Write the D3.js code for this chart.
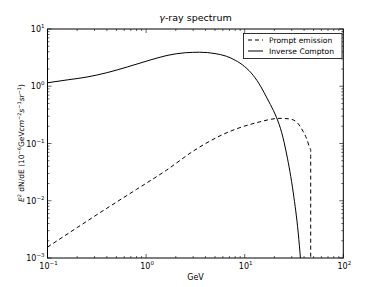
<!DOCTYPE html>
<html><head><meta charset="utf-8">
<script src="https://cdn.jsdelivr.net/npm/d3@7"></script>
<style>body{margin:0;background:#fff}svg{display:block}text{font-family:"DejaVu Sans",sans-serif;fill:#000}</style>
</head><body>
<svg id="c" width="382" height="287"></svg>
<script>
const icEnergy = [0.1, 0.158, 0.252, 0.403, 0.643, 1.02, 1.63, 2.5, 3.5, 5.0, 6.5, 8.0, 10.0, 12.2, 14.5, 17.0, 19.5, 21.1, 23.7, 26.6, 31.1, 34.9, 36.9, 38.5];
const icFlux   = [1.15, 1.29, 1.45, 1.73, 2.17, 2.76, 3.45, 3.85, 3.93, 3.72, 3.35, 2.85, 2.2, 1.55, 1.0, 0.6, 0.38, 0.28, 0.156, 0.0656, 0.0137, 0.00274, 0.00091, 0.00032];
const peEnergy = [0.1, 0.2, 0.4, 0.8, 1.6, 3.13, 6.07, 13.2, 22.8, 28.8, 35, 39.3, 43, 45.2, 46.5, 46.7, 46.7];
const peFlux   = [0.00155, 0.0034, 0.0074, 0.0158, 0.034, 0.077, 0.145, 0.231, 0.275, 0.268, 0.22, 0.16, 0.115, 0.088, 0.08, 0.08, 0.00001];
const xTicks = [-1, 0, 1, 2];
const yTicks = [-3, -2, -1, 0, 1];
const legendLabels = ["Prompt emission", "Inverse Compton"];

const svg = d3.select("#c");
const L = 47.5, R = 343.3, T = 29, B = 258;
const x = d3.scaleLog().domain([0.1, 100]).range([L, R]);
const y = d3.scaleLog().domain([1e-3, 10]).range([B, T]);

svg.append("defs").append("clipPath").attr("id","clip").append("rect")
  .attr("x",L).attr("y",T).attr("width",R-L).attr("height",B-T);

const line = d3.line().x(d=>x(d[0])).y(d=>y(d[1])).curve(d3.curveMonotoneX);
const g = svg.append("g").attr("clip-path","url(#clip)");
g.append("path").attr("d", line(icEnergy.map((e,i)=>[e,icFlux[i]])))
  .attr("fill","none").attr("stroke","#000").attr("stroke-width",1);
g.append("path").attr("d", line(peEnergy.map((e,i)=>[e,peFlux[i]])))
  .attr("fill","none").attr("stroke","#000").attr("stroke-width",1).attr("stroke-dasharray","4,3");

// axes frame
svg.append("rect").attr("x",L).attr("y",T).attr("width",R-L).attr("height",B-T)
  .attr("fill","none").attr("stroke","#000").attr("stroke-width",1);

// ticks
const tk = svg.append("g").attr("stroke","#000").attr("stroke-width",0.6);
const minorX = [];
for (let d=-1; d<2; d++) for (let m=2; m<10; m++) minorX.push(m*Math.pow(10,d));
const minorY = [];
for (let d=-3; d<1; d++) for (let m=2; m<10; m++) minorY.push(m*Math.pow(10,d));
xTicks.forEach(p=>{const px=x(Math.pow(10,p));
  tk.append("line").attr("x1",px).attr("x2",px).attr("y1",B).attr("y2",B-4);
  tk.append("line").attr("x1",px).attr("x2",px).attr("y1",T).attr("y2",T+4);});
minorX.forEach(v=>{const px=x(v);
  tk.append("line").attr("x1",px).attr("x2",px).attr("y1",B).attr("y2",B-2);
  tk.append("line").attr("x1",px).attr("x2",px).attr("y1",T).attr("y2",T+2);});
yTicks.forEach(p=>{const py=y(Math.pow(10,p));
  tk.append("line").attr("x1",L).attr("x2",L+4).attr("y1",py).attr("y2",py);
  tk.append("line").attr("x1",R).attr("x2",R-4).attr("y1",py).attr("y2",py);});
minorY.forEach(v=>{const py=y(v);
  tk.append("line").attr("x1",L).attr("x2",L+2).attr("y1",py).attr("y2",py);
  tk.append("line").attr("x1",R).attr("x2",R-2).attr("y1",py).attr("y2",py);});

function powLabel(sel, p, xx, yy, anchor){
  const t = sel.append("text").attr("x",xx).attr("y",yy).attr("font-size",8).attr("text-anchor",anchor);
  t.append("tspan").text("10");
  t.append("tspan").attr("font-size",5.5).attr("dy",-4).text(p<0 ? "\u2212"+(-p) : String(p));
  return t;
}
xTicks.forEach(p=>powLabel(svg,p,x(Math.pow(10,p))+1,269,"middle"));
yTicks.forEach(p=>powLabel(svg,p,L-3,y(Math.pow(10,p))+3,"end"));

// title
const tt = svg.append("text").attr("x",195.5).attr("y",21).attr("text-anchor","middle").attr("font-size",9.5);
tt.append("tspan").attr("font-style","italic").text("\u03b3");
tt.append("tspan").text("-ray spectrum");

// x label
svg.append("text").attr("x",195.5).attr("y",280).attr("text-anchor","middle").attr("font-size",8).text("GeV");

// y label
const yl = svg.append("text").attr("transform","translate(24,143) rotate(-90)").attr("text-anchor","middle").attr("font-size",7.5);
yl.append("tspan").attr("font-style","italic").text("E");
yl.append("tspan").attr("font-size",5).attr("dy",-3).text("2");
yl.append("tspan").attr("dy",3).text(" dN/dE (10");
yl.append("tspan").attr("font-size",5).attr("dy",-3).text("\u22126");
yl.append("tspan").attr("dy",3).text("GeV");
yl.append("tspan").attr("font-style","italic").text("cm");
yl.append("tspan").attr("font-size",5).attr("dy",-3).text("\u22122");
yl.append("tspan").attr("font-style","italic").attr("dy",3).text("s");
yl.append("tspan").attr("font-size",5).attr("dy",-3).text("\u22121");
yl.append("tspan").attr("font-style","italic").attr("dy",3).text("sr");
yl.append("tspan").attr("font-size",5).attr("dy",-3).text("\u22121");
yl.append("tspan").attr("dy",3).text(")");

// legend
const lg = svg.append("g");
lg.append("rect").attr("x",243.5).attr("y",33.5).attr("width",98.5).attr("height",25)
  .attr("fill","#fff").attr("stroke","#000").attr("stroke-width",0.8);
legendLabels.forEach((lab,i)=>{
  const yy = 40 + i*11;
  lg.append("line").attr("x1",248).attr("x2",263).attr("y1",yy).attr("y2",yy)
    .attr("stroke","#000").attr("stroke-width",1).attr("stroke-dasharray", i===0?"4,3":null);
  lg.append("text").attr("x",269).attr("y",yy+3).attr("font-size",7.6).text(lab);
});
</script>
</body></html>
